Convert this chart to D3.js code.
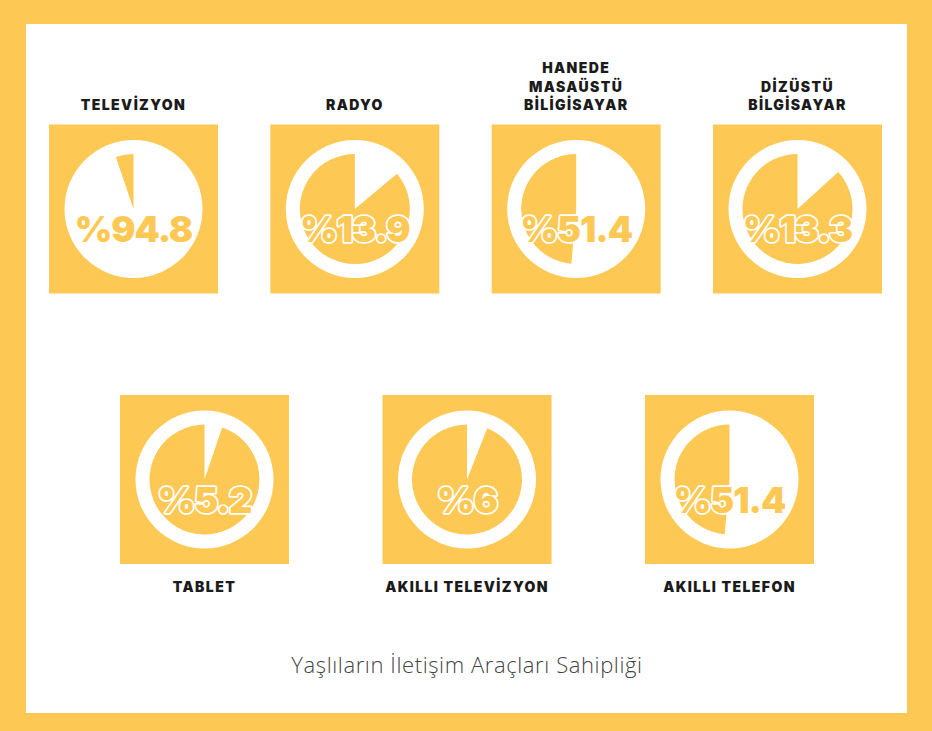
<!DOCTYPE html>
<html>
<head>
<meta charset="utf-8">
<script src="https://cdn.jsdelivr.net/npm/d3@7"></script>
<style>
  body { margin: 0; background: #fff; }
  svg { display: block; }
</style>
</head>
<body>
<div class="canvas"></div>
<script>
// data
const categories = ["tv", "radyo", "masaustu", "dizustu", "tablet", "akilliTv", "telefon"];
const labels = [
  ["TELEVİZYON"],
  ["RADYO"],
  ["HANEDE", "MASAÜSTÜ", "BİLİGİSAYAR"],
  ["DİZÜSTÜ", "BİLGİSAYAR"],
  ["TABLET"],
  ["AKILLI TELEVİZYON"],
  ["AKILLI TELEFON"]
];
const values = [94.8, 13.9, 51.4, 13.3, 5.2, 6, 51.4];
const valueLabels = ["%94.8", "%13.9", "%51.4", "%13.3", "%5.2", "%6", "%51.4"];
const title = "Yaşlıların İletişim Araçları Sahipliği";

const dims = { width: 932, height: 731, frame: 25, box: 169, outer: 69, inner: 55 };
const yellow = "#FDC854";

const svg = d3
  .select(".canvas")
  .append("svg")
  .attr("width", dims.width)
  .attr("height", dims.height);

// yellow frame
svg.append("rect").attr("width", dims.width).attr("height", dims.height).attr("fill", yellow);
svg
  .append("rect")
  .attr("x", 26)
  .attr("y", 24)
  .attr("width", 881)
  .attr("height", 689)
  .attr("fill", "#fff");

// row positions
const topRow = categories.slice(0, 4);
const bottomRow = categories.slice(4);

const xTop = d3.scalePoint().domain(topRow).range([133.5, 797.5]);
const xBottom = d3.scalePoint().domain(bottomRow).range([204.5, 729.5]);

const items = categories.map((c, i) => {
  const isTop = i < 4;
  return {
    key: c,
    lines: labels[i],
    value: values[i],
    text: valueLabels[i],
    top: isTop,
    cx: isTop ? xTop(c) : xBottom(c),
    cy: isTop ? 209 : 479.5
  };
});

const pie = d3
  .pie()
  .sort(null)
  .value((d) => d);

const arcPath = d3.arc().innerRadius(0).outerRadius(dims.inner);

const groups = svg
  .selectAll("g.item")
  .data(items)
  .enter()
  .append("g")
  .attr("class", "item")
  .attr("transform", (d) => `translate(${d.cx}, ${d.cy})`);

groups
  .append("rect")
  .attr("x", -dims.box / 2)
  .attr("y", -dims.box / 2)
  .attr("width", dims.box)
  .attr("height", dims.box)
  .attr("fill", yellow);

groups.append("circle").attr("r", dims.outer).attr("fill", "#fff");

// white slice = value, yellow slice = the rest
groups
  .selectAll("path")
  .data((d) => pie([d.value, 100 - d.value]))
  .enter()
  .append("path")
  .attr("d", arcPath)
  .attr("fill", (d, i) => (i === 0 ? "#fff" : yellow));

// value text
groups
  .append("text")
  .attr("text-anchor", "middle")
  .attr("y", 33)
  .attr("font-family", "Inter, 'Open Sans', sans-serif")
  .attr("font-weight", 900)
  .attr("font-size", 36)
  .attr("letter-spacing", -1)
  .attr("fill", yellow)
  .attr("stroke", "#fff")
  .attr("stroke-width", 3.5)
  .attr("stroke-linejoin", "round")
  .attr("paint-order", "stroke")
  .text((d) => d.text);

// category labels
const labelLH = 18.3;
groups
  .append("text")
  .attr("text-anchor", "middle")
  .attr("font-family", "Inter, 'Open Sans', sans-serif")
  .attr("font-weight", 900)
  .attr("font-size", 14)
  .attr("letter-spacing", 1.4)
  .attr("fill", "#1b1b1b")
  .selectAll("tspan")
  .data((d) =>
    d.lines.map((l, i) => ({
      line: l,
      y: d.top ? 110 - 209 - (d.lines.length - 1 - i) * labelLH : 592 - 479.5
    }))
  )
  .enter()
  .append("tspan")
  .attr("x", 0)
  .attr("y", (d) => d.y)
  .text((d) => d.line);

// title
svg
  .append("text")
  .attr("x", 467)
  .attr("y", 673)
  .attr("text-anchor", "middle")
  .attr("font-family", "'Open Sans', sans-serif")
  .attr("font-weight", 300)
  .attr("font-size", 22)
  .attr("letter-spacing", 0.6)
  .attr("fill", "#444")
  .text(title);
</script>
</body>
</html>
